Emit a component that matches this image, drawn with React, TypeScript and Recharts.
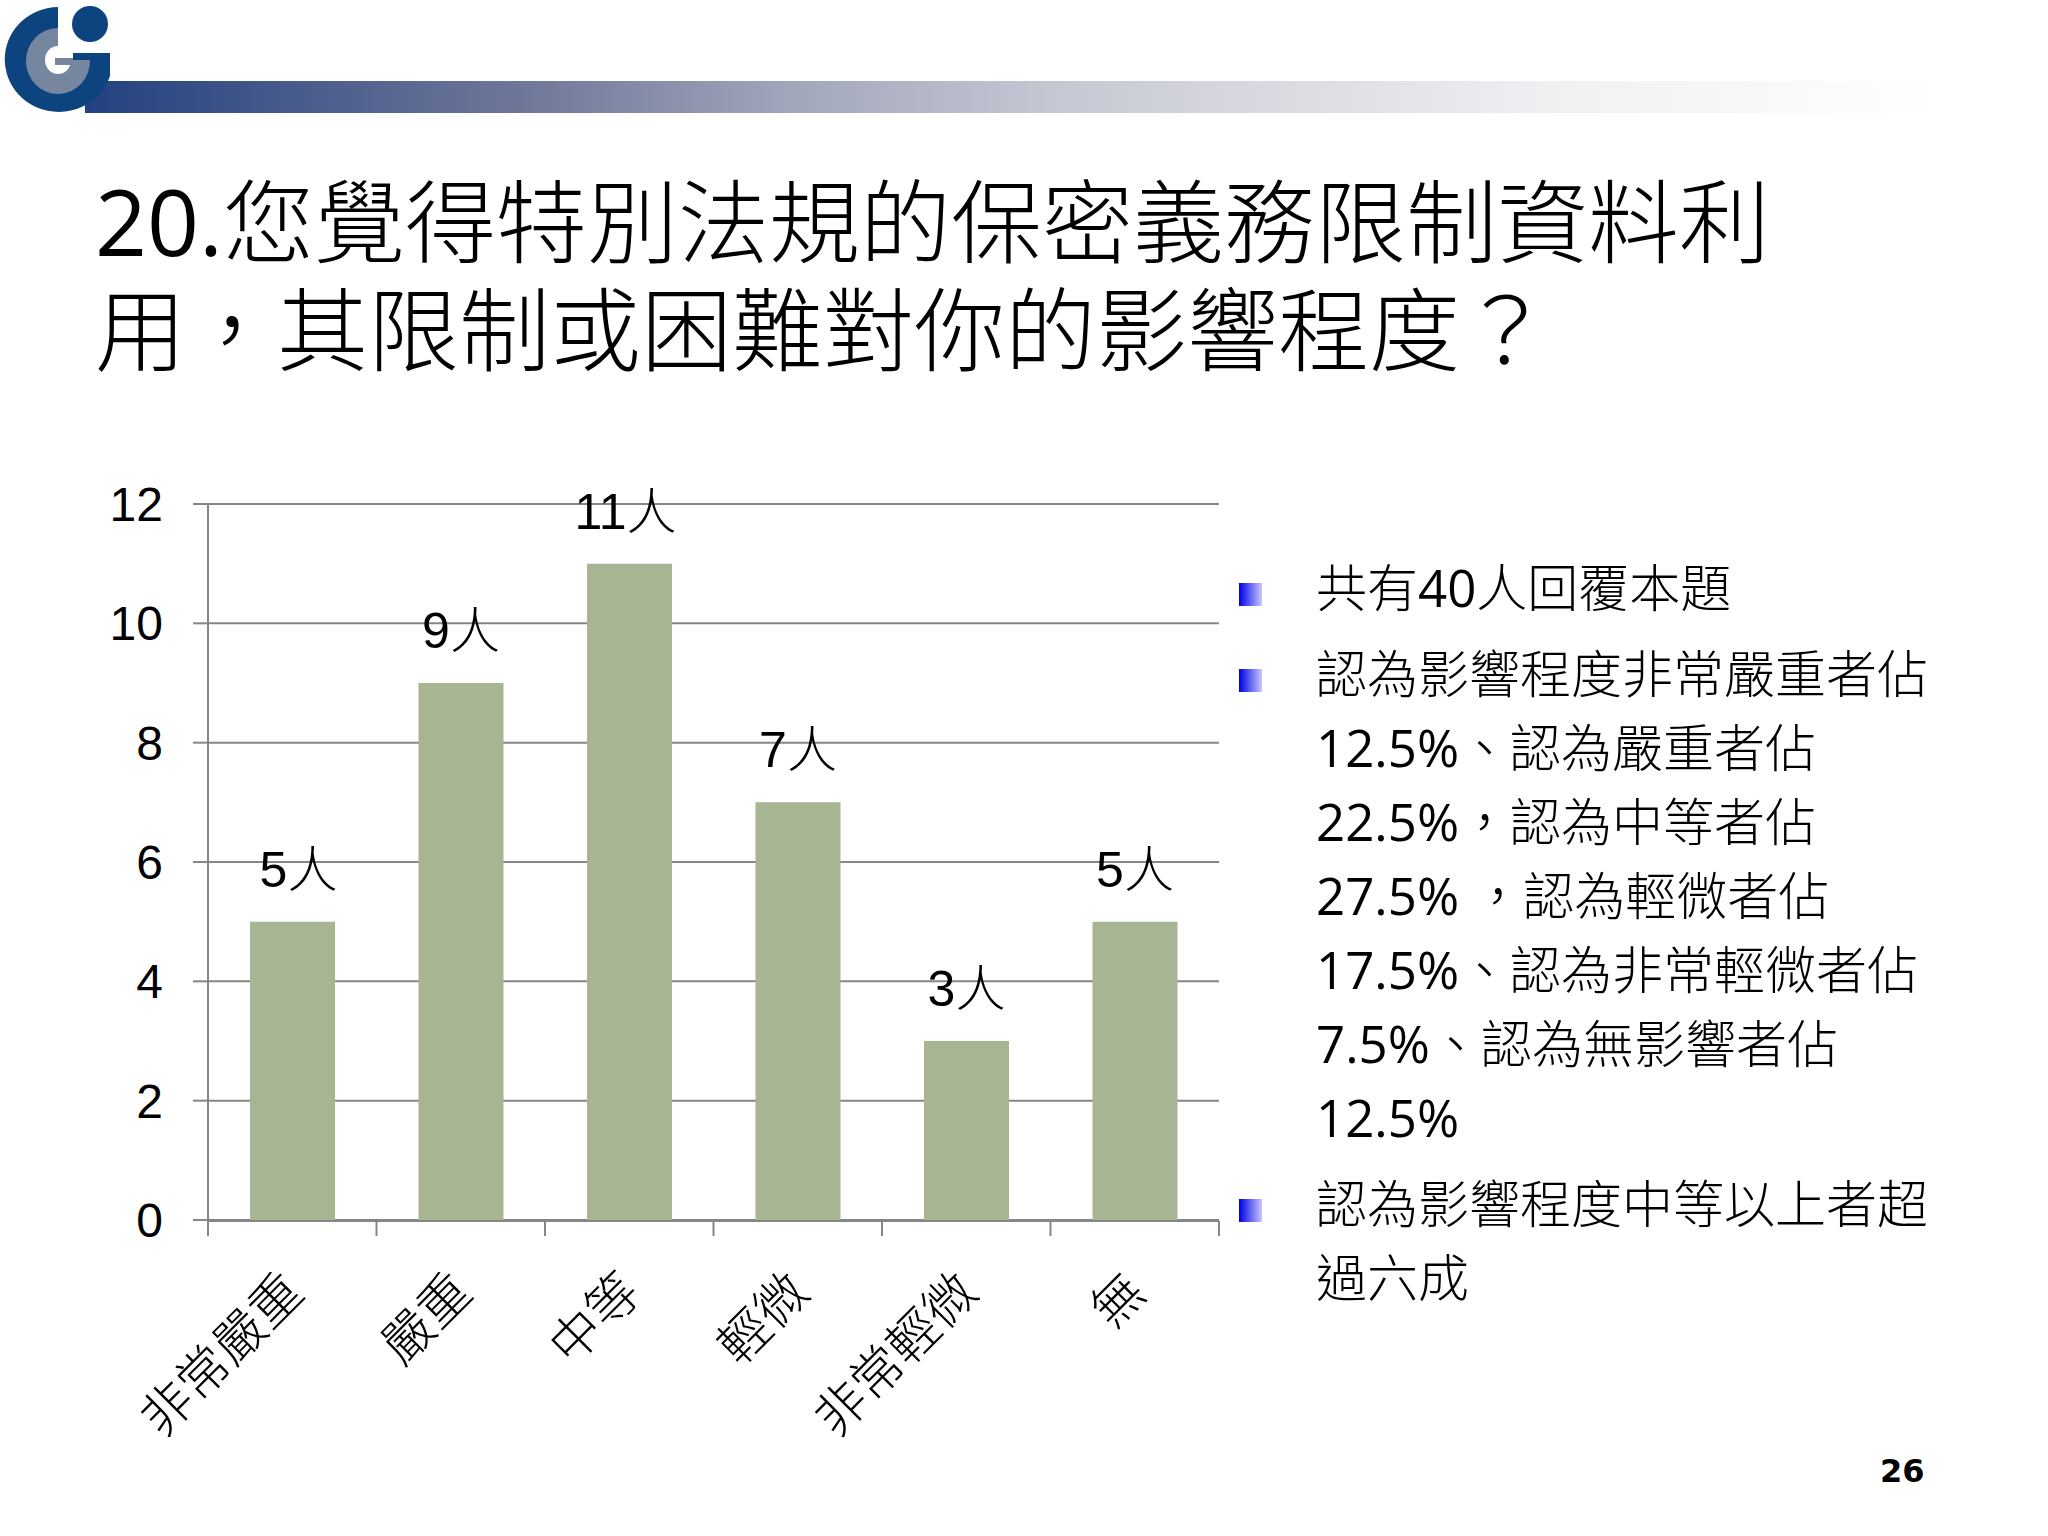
import React from 'react';
import { BarChart, Bar, XAxis, YAxis, CartesianGrid, LabelList } from 'recharts';

const categories = ['非常嚴重', '嚴重', '中等', '輕微', '非常輕微', '無'];
const people = [5, 9, 11, 7, 3, 5];
const yTicks = [0, 2, 4, 6, 8, 10, 12];
const bandEdges = [0, 1, 2, 3, 4, 5, 6];

const titleLines = ['20.您覺得特別法規的保密義務限制資料利', '用，其限制或困難對你的影響程度？'];
const paragraphs = [
  ['共有40人回覆本題'],
  [
    '認為影響程度非常嚴重者佔',
    '12.5%、認為嚴重者佔',
    '22.5%，認為中等者佔',
    '27.5% ，認為輕微者佔',
    '17.5%、認為非常輕微者佔',
    '7.5%、認為無影響者佔',
    '12.5%',
  ],
  ['認為影響程度中等以上者超', '過六成'],
];
const pageNumber = '26';

const data = categories.map((name, i) => ({ name, people: people[i] }));

const CJK = '"Open Sans", "Noto Sans CJK TC", sans-serif';
const AXIS = '#868686';

// digits are regular weight in the slide, the CJK text is lighter
const Mixed = ({ text }: { text: string }) => (
  <>
    {text.split(/([\d.%]+)/).map((part, i) =>
      i % 2 ? (
        <span key={i} style={{ fontWeight: 400 }}>
          {part}
        </span>
      ) : (
        part
      ),
    )}
  </>
);

const CategoryTick = ({ x, y, payload }: any) => (
  <text
    x={x + 14}
    y={y + 67}
    textAnchor="end"
    fontFamily={CJK}
    fontWeight={300}
    fontSize={51}
    fill="#000"
    transform={`rotate(-45 ${x + 14} ${y + 67})`}
  >
    {payload.value}
  </text>
);

// first and third labels sit a little off their bar centre in the slide
const labelNudge: Record<number, number> = { 0: 6, 2: -4 };

const PeopleLabel = ({ x, y, width, value, index }: any) => (
  <text
    x={x + width / 2 + (labelNudge[index] || 0)}
    y={y - 35}
    textAnchor="middle"
    fontSize={50}
    fill="#000"
    fontFamily={`"Liberation Sans", "Noto Sans CJK TC"`}
    fontWeight={300}
  >
    {`${value}人`}
  </text>
);

const Logo = () => (
  <svg width={120} height={120} style={{ position: 'absolute', left: 0, top: 0 }}>
    <path d="M58 7 A54 52.5 0 1 0 110 76 L110 53 L73 53 L73 60 L58 60 Z" fill="#0d4480" />
    <path d="M58 28 A32 33 0 1 0 90 60 L58 60 Z" fill="#76869f" />
    <ellipse cx={58} cy={60} rx={13} ry={14} fill="#fff" />
    <rect x={55} y={58} width={18} height={7} fill="#76869f" />
    <ellipse cx={90} cy={24} rx={18} ry={18} fill="#0d4480" />
  </svg>
);

export default function App() {
  return (
    <div style={{ position: 'absolute', left: 0, top: 0, width: 2048, height: 1536, background: '#fff', overflow: 'hidden', fontFamily: CJK, color: '#000' }}>
      <div
        style={{
          position: 'absolute',
          left: 85,
          top: 81,
          width: 1860,
          height: 32,
          background: 'linear-gradient(90deg, #234180, #6f7799 23.5%, #a0a5ba 37.6%, #c4c6d2 51.6%, #dcdde3 65.7%, #f1f1f4 79.7%, #ffffff)',
        }}
      />
      <Logo />

      <div style={{ position: 'absolute', left: 95, top: 167, fontSize: 91, lineHeight: '108px', fontWeight: 300, whiteSpace: 'pre' }}>
        {titleLines.map((line) => (
          <div key={line}>
            <Mixed text={line} />
          </div>
        ))}
      </div>

      <div style={{ position: 'absolute', left: 0, top: 0 }}>
        <BarChart
          width={1300}
          height={1536}
          data={data}
          margin={{ top: 504, right: 81, left: 0, bottom: 314 }}
        >
          <CartesianGrid vertical={false} stroke={AXIS} strokeWidth={2} />
          <XAxis
            xAxisId="edges"
            dataKey="people"
            type="number"
            domain={[0, 6]}
            allowDataOverflow
            ticks={bandEdges}
            interval={0}
            height={1}
            tickSize={15}
            tickFormatter={() => ''}
            stroke={AXIS}
            strokeWidth={2}
          />
          <XAxis dataKey="name" height={1} axisLine={false} tickLine={false} interval={0} tick={<CategoryTick />} />
          <YAxis
            width={208}
            domain={[0, 12]}
            ticks={yTicks}
            interval={0}
            tickSize={15}
            tickMargin={30}
            stroke={AXIS}
            strokeWidth={2}
            tick={{ fill: '#000', fontSize: 48, fontFamily: '"Liberation Sans", sans-serif' }}
          />
          <Bar dataKey="people" fill="#a7b592" barSize={85} isAnimationActive={false}>
            <LabelList dataKey="people" content={<PeopleLabel />} />
          </Bar>
        </BarChart>
      </div>

      <div style={{ position: 'absolute', left: 1316, top: 550, fontSize: 51, lineHeight: '74px', fontWeight: 300, whiteSpace: 'pre' }}>
        {paragraphs.map((lines, i) => (
          <div key={i} style={{ position: 'relative', marginBottom: 12 }}>
            <div
              style={{
                position: 'absolute',
                left: -77,
                top: 33,
                width: 23,
                height: 23,
                background: 'linear-gradient(90deg, #0000e6, #c8c8ff)',
              }}
            />
            {lines.map((line) => (
              <div key={line}>
                <Mixed text={line} />
              </div>
            ))}
          </div>
        ))}
      </div>

      <div style={{ position: 'absolute', left: 1880, top: 1451, fontFamily: '"DejaVu Sans", sans-serif', fontWeight: 700, fontSize: 32, lineHeight: '40px' }}>
        {pageNumber}
      </div>
    </div>
  );
}
